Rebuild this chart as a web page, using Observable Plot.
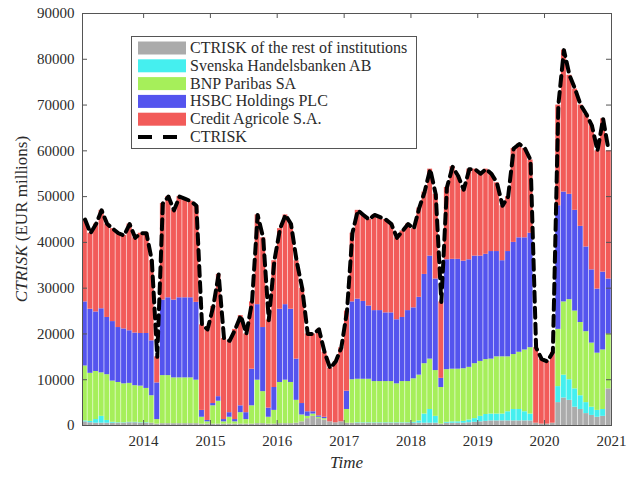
<!DOCTYPE html>
<html><head><meta charset="utf-8">
<script src="https://cdn.jsdelivr.net/npm/d3@7"></script>
<script src="https://cdn.jsdelivr.net/npm/@observablehq/plot@0.6"></script>
<style>body{margin:0;background:#fff} #chart{width:627px;height:478px}</style>
</head><body><div id="chart"></div>
<script>
// Monthly observations, Feb 2013 .. Dec 2020 (EUR millions)
const startMonth = "2013-02-01", endMonth = "2021-01-01";
const seriesNames = ["CTRISK of the rest of institutions","Svenska Handelsbanken AB","BNP Paribas SA","HSBC Holdings PLC","Credit Agricole S.A."];
const seriesColors = ["#ababab","#45efef","#a6ef5a","#5454ee","#f25b59"];
const rest = [800,600,500,500,500,500,500,500,600,600,500,500,500,300,400,400,400,400,400,400,400,300,300,300,300,300,300,300,300,300,300,400,400,300,300,400,400,400,500,800,1500,2000,1500,1200,800,600,800,500,500,500,500,500,500,500,500,500,500,500,500,500,500,500,500,500,300,500,500,500,500,600,700,800,900,1000,1000,1000,1000,1000,1000,1000,1000,500,300,300,500,5000,6000,5500,4000,3500,2600,2200,1800,2000,8000];
const svenska = [200,300,800,1500,600,200,100,100,100,100,100,100,0,0,0,0,0,0,0,0,0,0,0,0,0,0,0,0,0,0,0,0,0,0,0,0,0,0,0,0,0,0,0,0,0,0,0,0,0,100,100,100,100,100,100,100,100,100,100,200,500,2000,3000,1500,0,200,300,300,400,600,800,1200,1500,1500,1500,1500,2000,2500,2500,2000,1500,0,0,0,0,3500,5000,4500,4000,3000,2400,1800,1500,1500,0];
const bnp = [12000,10500,10500,9500,10000,9000,8800,8500,8500,8000,8000,7500,6000,1000,10500,10500,10000,10000,10000,10000,9500,1500,500,4000,5000,500,1500,500,2500,1000,4000,9500,7000,1500,3000,9000,9500,9000,5000,1500,500,500,300,300,0,0,0,3000,9500,9500,9500,9500,9000,9000,9000,9000,8500,9000,9000,9500,10000,11000,11000,10000,8000,11500,11500,11500,11500,11500,12000,12000,12000,12000,12500,12500,12000,12000,12500,13500,14500,0,0,0,0,12500,16000,17500,17000,16000,15500,14000,12500,13000,12000];
const hsbc = [14000,14000,13000,14000,12500,13000,12000,12000,11500,11500,11500,12000,12000,8000,16500,17000,17000,17500,17500,17500,17000,1500,300,500,1000,500,1000,500,1500,1500,8000,16500,14000,2000,5000,16000,16500,16000,9000,2500,1000,500,300,300,0,0,0,4000,17000,17500,17000,16000,15500,15500,15000,15000,14000,14000,15500,15500,17000,19500,22500,20000,2000,24000,24000,24000,23500,23500,23500,23000,23000,23500,23000,21000,23000,24500,25000,24500,25000,0,0,0,0,27000,24000,23000,22000,21000,18500,16000,14000,17000,12000];
const creditAgricole = [18000,16600,19200,21500,20400,20300,20600,20400,23300,20800,21900,21900,17500,5700,21100,22100,19600,22100,21600,21100,21100,18700,19900,21200,26700,17700,15700,19700,19700,17200,14700,19600,19600,19200,27700,17600,19600,18600,21500,25200,17000,17000,18900,14200,11700,13400,16200,17500,15000,19400,18900,18900,20900,20400,20400,19400,17900,18900,18900,17300,19500,18000,19000,18500,16700,15800,20200,18200,15600,19800,19000,18000,18600,17000,15000,12000,12000,20500,20500,19500,16000,16500,14200,13700,15500,22000,31000,26000,26500,26500,29000,31500,30200,33500,28000];
const yTicks = [0,10000,20000,30000,40000,50000,60000,70000,80000,90000];
const xTickYears = ["2014","2015","2016","2017","2018","2019","2020","2021"];

const series = [rest, svenska, bnp, hsbc, creditAgricole];
const months = d3.utcMonth.range(new Date(startMonth), new Date(endMonth));
const rows = [];
months.forEach((m, i) => series.forEach((s, k) => rows.push({date: m, series: seriesNames[k], value: s[i]})));
const totals = months.map((m, i) => ({
  mid: new Date((+m + +d3.utcMonth.offset(m, 1)) / 2),
  total: d3.sum(series, s => s[i])
}));
const xTicks = xTickYears.map(y => new Date(y + "-01-01"));

const W = 627, H = 478, mL = 82, mR = 16, mT = 13, mB = 53;
const pW = W - mL - mR, pH = H - mT - mB;
const ink = "#2b2b2b";

const chart = Plot.plot({
  width: W, height: H,
  marginLeft: mL, marginRight: mR, marginTop: mT, marginBottom: mB,
  style: {fontFamily: "'Liberation Serif', 'DejaVu Serif', serif", fontSize: "15px", color: ink, background: "#fff"},
  x: {type: "utc", domain: [new Date(startMonth), new Date(endMonth)]},
  y: {domain: [0, 90000]},
  color: {domain: seriesNames, range: seriesColors},
  marks: [
    Plot.rectY(rows, Plot.stackY({x: "date", y: "value", z: "series", fill: "series", interval: "month", order: seriesNames, insetLeft: 0.3, insetRight: 0.3})),
    Plot.line(totals, {x: "mid", y: "total", stroke: "#000", strokeWidth: 4, strokeDasharray: "10,6"}),
    Plot.frame({stroke: "#555", strokeWidth: 1}),
    Plot.ruleX(xTicks, {x: d => d, insetTop: pH - 5, stroke: "#555"}),
    Plot.ruleX(xTicks, {x: d => d, insetBottom: pH - 5, stroke: "#555"}),
    Plot.ruleY(yTicks, {y: d => d, insetRight: pW - 5, stroke: "#555"}),
    Plot.ruleY(yTicks, {y: d => d, insetLeft: pW - 5, stroke: "#555"}),
    Plot.axisX({ticks: xTicks, tickFormat: "%Y", tickSize: 0, tickPadding: 10, label: null, fontSize: 15}),
    Plot.axisY({ticks: yTicks, tickFormat: d3.format("d"), tickSize: 0, tickPadding: 8, label: null, fontSize: 15})
  ]
});

const svg = d3.select(chart);
// axis titles
const yl = svg.append("text").attr("transform", "translate(27," + (mT + pH / 2) + ") rotate(-90)")
  .attr("text-anchor", "middle").attr("font-size", 17).attr("fill", ink);
yl.append("tspan").attr("font-style", "italic").text("CTRISK");
yl.append("tspan").text(" (EUR millions)");
svg.append("text").attr("x", mL + pW / 2).attr("y", 468).attr("text-anchor", "middle")
  .attr("font-size", 17).attr("font-style", "italic").attr("fill", ink).text("Time");

// legend
const lg = svg.append("g").attr("text-anchor", "start");
lg.append("rect").attr("x", 131.5).attr("y", 36.5).attr("width", 285).attr("height", 112)
  .attr("fill", "#fff").attr("stroke", "#555");
const legendRows = seriesNames.concat(["CTRISK"]);
legendRows.forEach((name, i) => {
  const cy = 48 + i * 17.8;
  if (i < seriesNames.length) {
    lg.append("rect").attr("x", 138).attr("y", cy - 6.5).attr("width", 48).attr("height", 13).attr("fill", seriesColors[i]);
  } else {
    lg.append("line").attr("x1", 138).attr("x2", 178).attr("y1", cy).attr("y2", cy)
      .attr("stroke", "#000").attr("stroke-width", 4).attr("stroke-dasharray", "14,11");
  }
  lg.append("text").attr("x", 190).attr("y", cy + 5).attr("text-anchor", "start")
    .attr("font-size", 16).attr("fill", ink).text(name);
});

document.getElementById("chart").appendChild(chart);
</script>
</body></html>
